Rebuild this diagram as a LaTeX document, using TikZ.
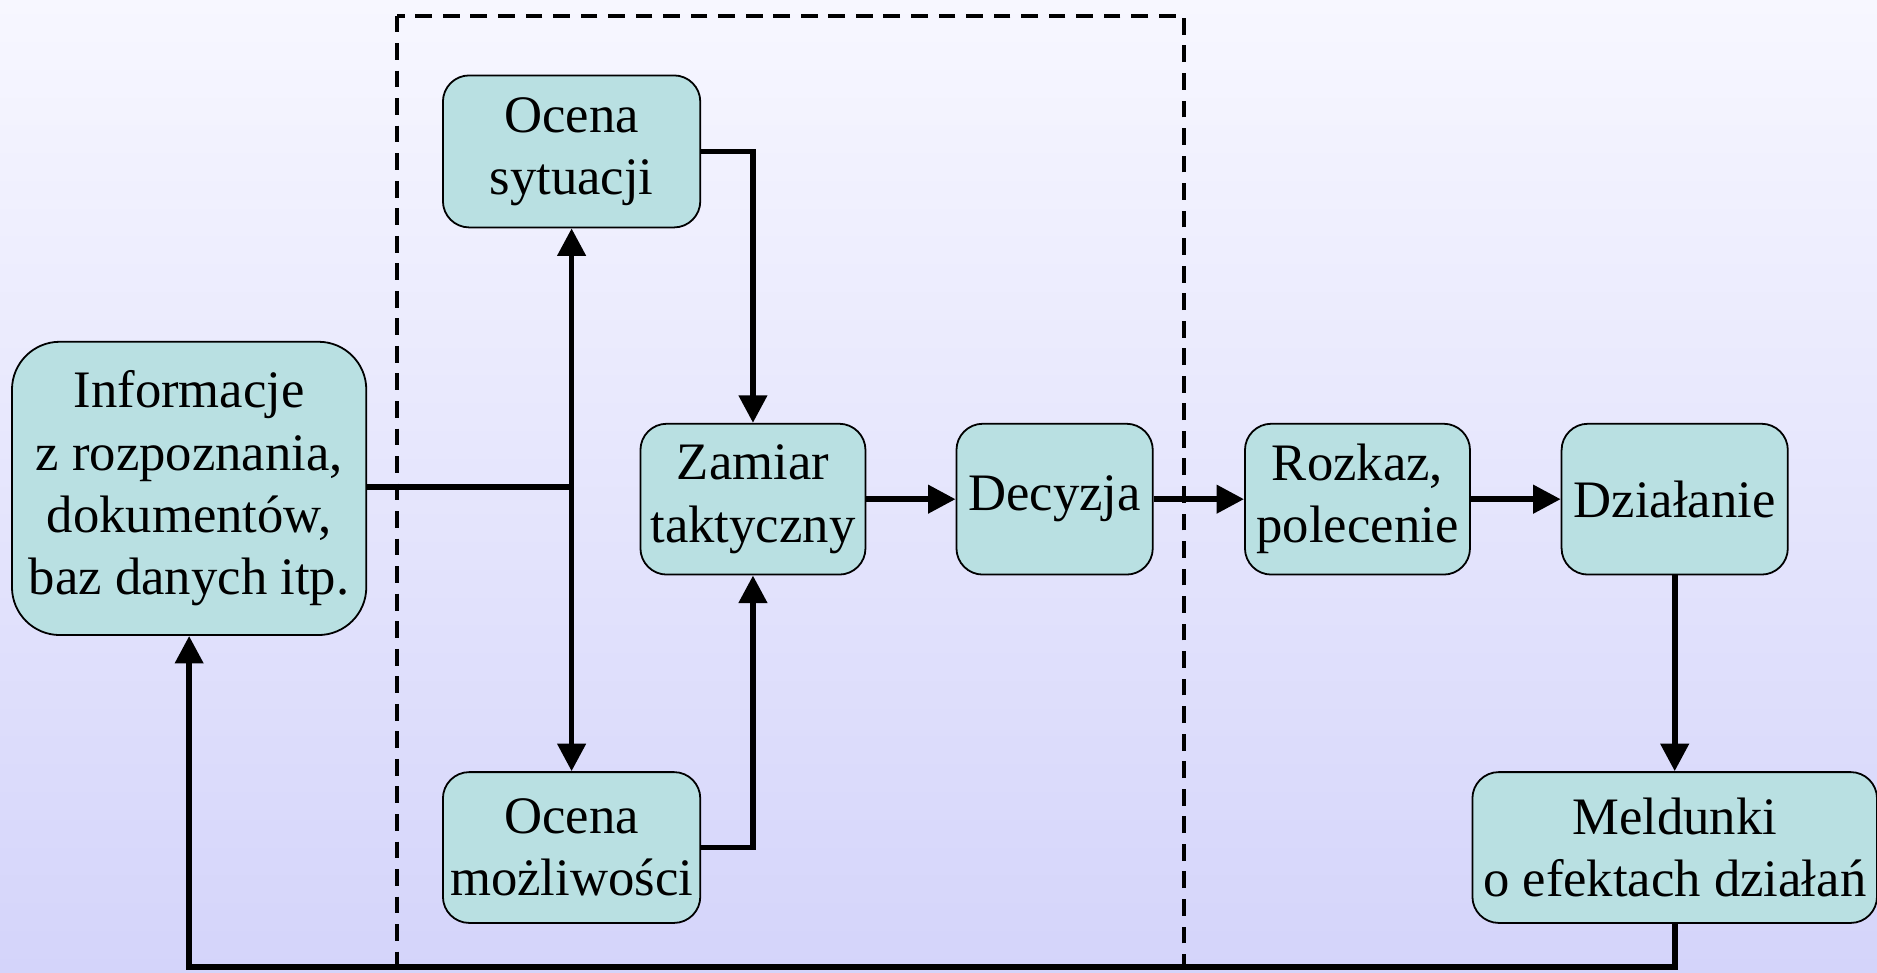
\documentclass[tikz,border=0pt]{standalone}
\usepackage{fontspec}
\setmainfont{Liberation Serif}
\usetikzlibrary{arrows.meta}
\definecolor{bgtop}{RGB}{247,247,255}
\definecolor{bgbot}{RGB}{212,212,250}
\definecolor{boxfill}{RGB}{185,224,226}
\begin{document}
\begin{tikzpicture}[x=0.5pt,y=-0.5pt,
  box/.style={draw=black,line width=0.75pt,fill=boxfill,rounded corners=11pt,
    inner sep=0pt,align=center,minimum height=63pt,
    font=\fontsize{22}{26}\selectfont},
  conn/.style={line width=2.4pt},
  arr/.style={conn,-{Triangle[length=11.5pt,width=11.5pt]}},
  frame/.style={line width=1.7pt,dash pattern=on 7pt off 4.5pt}]
\shade[top color=bgtop,bottom color=bgbot] (0,0) rectangle (1568,812);
\useasboundingbox (0,0) rectangle (1568,812);
% dashed frame
\draw[frame] (332,13) rectangle (989,808);
% nodes
\node[box,minimum width=148pt,minimum height=122.5pt,rounded corners=20pt] (info) at (158,408)
  {Informacje\\z rozpoznania,\\dokumentów,\\baz danych itp.};
\node[box,minimum width=107.5pt,minimum height=63.5pt] (os) at (477.5,126.5) {Ocena\\sytuacji};
\node[box,minimum width=107.5pt] (om) at (477.5,708) {Ocena\\możliwości};
\node[box,minimum width=94pt] (zt) at (629,417) {Zamiar\\taktyczny};
\node[box,minimum width=82pt] (dec) at (881,417) {Decyzja};
\node[box,minimum width=94pt] (roz) at (1134,417) {Rozkaz,\\polecenie};
\node[box,minimum width=94.5pt] (dz) at (1399,417) {Działanie};
\node[box,minimum width=169pt] (mel) at (1399,708) {Meldunki\\o efektach działań};
% connectors
\coordinate (j) at (os.south |- 0,407);
\coordinate (fb) at (158,808);
\draw[conn] (info.east |- j) -- (j);
\draw[arr] (j) -- (os.south);
\draw[arr] (j) -- (om.north);
\draw[arr] (os.east) -| (zt.north);
\draw[arr] (om.east) -| (zt.south);
\draw[arr] (zt) -- (dec);
\draw[arr] (dec) -- (roz);
\draw[arr] (roz) -- (dz);
\draw[arr] (dz) -- (mel);
\draw[arr] (mel.south) |- (fb) -- (info.south);
\end{tikzpicture}
\end{document}
